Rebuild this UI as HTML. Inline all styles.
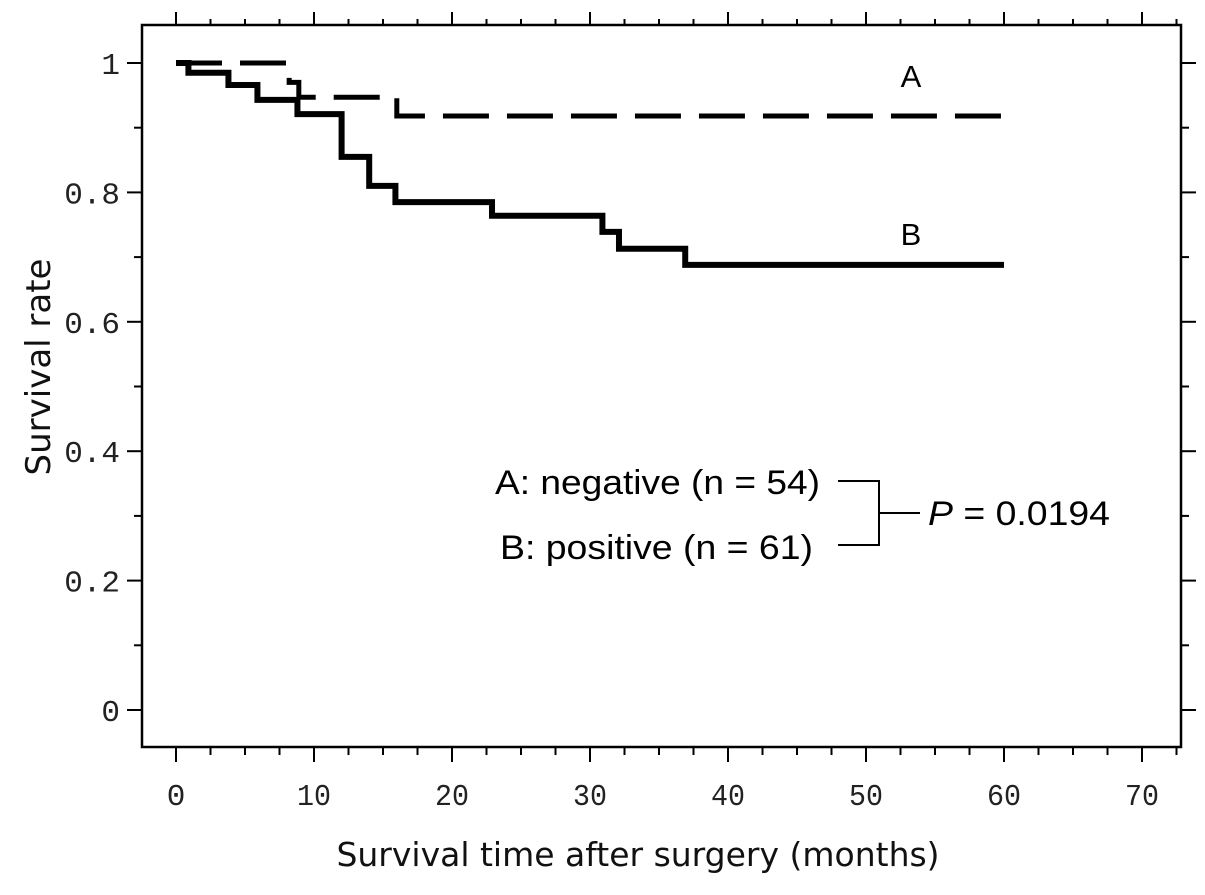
<!DOCTYPE html>
<html><head><meta charset="utf-8"><style>
body{margin:0;background:#fff;}
svg{display:block;font-family:"Liberation Sans",sans-serif;}
.tk{font-family:"Liberation Mono","DejaVu Sans Mono",monospace;font-size:31px;fill:#222;}
</style></head><body>
<svg id="chart" width="1205" height="895" viewBox="0 0 1205 895">
<g id="axes"></g>
<g id="curves"></g>
<text x="911" y="87" font-size="31" text-anchor="middle">A</text>
<text x="911" y="245" font-size="31" text-anchor="middle">B</text>
<g>
<text x="495" y="494" font-size="34" textLength="325" lengthAdjust="spacingAndGlyphs">A: negative (n = 54)</text>
<text x="500" y="559" font-size="34" textLength="313" lengthAdjust="spacingAndGlyphs">B: positive (n = 61)</text>
<path d="M838 481H879V545H838M879 513H920" stroke="#000" stroke-width="2" fill="none"/>
<text x="928" y="525" font-size="34" textLength="182" lengthAdjust="spacingAndGlyphs"><tspan font-style="italic">P</tspan> = 0.0194</text>
</g>
<text transform="translate(50,367) rotate(-90)" font-size="34" text-anchor="middle" font-family="'DejaVu Sans',sans-serif" fill="#111">Survival rate</text>
<text x="638" y="866" font-size="33" text-anchor="middle" font-family="'DejaVu Sans',sans-serif" fill="#111">Survival time after surgery (months)</text>
</svg>
<script>
const xTicks=[0,10,20,30,40,50,60,70];
const yTicks=[0,0.2,0.4,0.6,0.8,1];
const yTickLabels=["0","0.2","0.4","0.6","0.8","1"];
const aTimes=[0,8.2,8.9,16.0,60];
const aSurv=[1,0.97,0.947,0.918,0.918];
const bTimes=[0,0.9,3.8,5.9,8.8,12.0,14.0,15.9,22.9,30.9,32.1,36.9,60];
const bSurv=[1,0.985,0.966,0.943,0.921,0.855,0.81,0.785,0.764,0.739,0.713,0.688,0.688];

const X=t=>176+t*13.8;
const Y=v=>710-v*647;
const NS="http://www.w3.org/2000/svg";
const L=142,R=1181,T=25,B=747;
const ax=document.getElementById('axes');
function line(x1,y1,x2,y2,w,name){const l=document.createElementNS(NS,'line');
l.setAttribute('x1',x1);l.setAttribute('y1',y1);l.setAttribute('x2',x2);l.setAttribute('y2',y2);
l.setAttribute('stroke','#000');l.setAttribute('stroke-width',w);


ax.appendChild(l);return l;}
const fr=document.createElementNS(NS,'rect');
fr.setAttribute('x',L);fr.setAttribute('y',T);fr.setAttribute('width',R-L);fr.setAttribute('height',B-T);
fr.setAttribute('fill','none');fr.setAttribute('stroke','#000');fr.setAttribute('stroke-width',2.5);


ax.appendChild(fr);
for(let t=0;t<=72.5;t+=2.5){const x=X(t);const maj=Math.abs(t%10)<0.01;
 line(x,B,x,B+(maj?15:8),2,'x-tick');
 line(x,T,x,T-(maj?13:6),2,'x-tick-top');}
xTicks.forEach(t=>{const tx=document.createElementNS(NS,'text');
 tx.setAttribute('x',X(t));tx.setAttribute('y',B+58);tx.setAttribute('text-anchor','middle');tx.setAttribute('class','tk');
 if(t>0){tx.setAttribute('textLength','34');tx.setAttribute('lengthAdjust','spacingAndGlyphs');}
 tx.textContent=String(t);
 
 
 ax.appendChild(tx);});
for(let i=0;i<=10;i++){const v=i/10;const y=Y(v);const maj=i%2===0;
 line(L,y,L-(maj?15:8),y,2,'y-tick');
 line(R,y,R+(maj?15:8),y,2,'y-tick-right');}
yTicks.forEach((v,i)=>{const tx=document.createElementNS(NS,'text');
 tx.setAttribute('x',L-22);tx.setAttribute('y',Y(v)+11);tx.setAttribute('text-anchor','end');tx.setAttribute('class','tk');
 tx.textContent=yTickLabels[i];
 
 
 ax.appendChild(tx);});
const cv=document.getElementById('curves');
function step(ts,ss){let d='M'+X(ts[0])+' '+Y(ss[0]);
 for(let i=1;i<ts.length;i++){d+='H'+X(ts[i])+'V'+Y(ss[i]);}return d;}
const pa=document.createElementNS(NS,'path');
pa.setAttribute('d',step(aTimes,aSurv));pa.setAttribute('fill','none');pa.setAttribute('stroke','#000');
pa.setAttribute('stroke-width',5);pa.setAttribute('stroke-dasharray','46 18');


cv.appendChild(pa);
const pb=document.createElementNS(NS,'path');
pb.setAttribute('d',step(bTimes,bSurv));pb.setAttribute('fill','none');pb.setAttribute('stroke','#000');
pb.setAttribute('stroke-width',6);


cv.appendChild(pb);
</script>
</body></html>
